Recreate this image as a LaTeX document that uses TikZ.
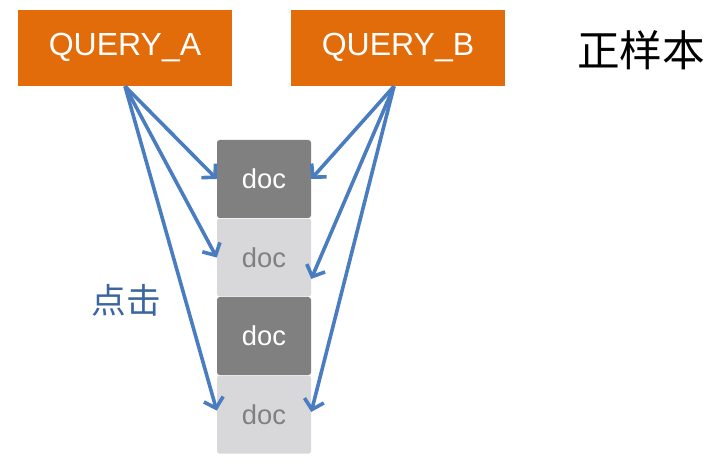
\documentclass[tikz,border=0pt]{standalone}
\usepackage{fontspec}
\setmainfont{Liberation Sans}
\newfontfamily\cjk{Noto Sans CJK SC}
\usepackage{xcolor}
\usepackage{tikz}
\usetikzlibrary{arrows.meta}
\usetikzlibrary{positioning}

\definecolor{qorange}{HTML}{E36C0A}
\definecolor{linkblue}{HTML}{4A7CC0}
\definecolor{clickblue}{HTML}{3A65A0}
\definecolor{docdark}{HTML}{808080}
\definecolor{doclight}{HTML}{D8D8DA}

\tikzset{
	query/.style={fill=qorange, text=white, minimum width=160pt, minimum height=57pt,
		inner sep=0pt, font=\fontsize{24}{24}\selectfont},
	docbox/.style={minimum width=70.5pt, minimum height=58.5pt, inner sep=0pt,
		rounded corners=2pt, font=\fontsize{20.5}{20.5}\selectfont},
	clicked/.style={docbox, fill=docdark, text=white},
	skipped/.style={docbox, fill=doclight, text=docdark},
	link/.style={draw=linkblue, line width=2.7pt, -{Straight Barb[length=7pt,width=15pt]}}
}

\begin{document}
\begin{tikzpicture}[x=0.75pt,y=-0.75pt]
	\useasboundingbox (0,0) rectangle (722,474);
	        \node[query] (qa) at (125,48) {QUERY\_A};
	        \node[query] (qb) at (398,48) {QUERY\_B};
	        \node (pos) at (641,50) {\cjk\fontsize{32}{32}\selectfont 正样本};
	        \node[clicked] (d1) at (264,179) {doc};
	        \node[skipped] (d2) [below=0pt of d1] {doc};
	        \node[clicked] (d3) [below=0pt of d2] {doc};
	        \node[skipped] (d4) [below=0pt of d3] {doc};
	        \node[text=clickblue] (click) at (126,300) {\cjk\fontsize{26}{26}\selectfont 点击};
	        \draw[link] (qa.south) to (d1.west);
	        \draw[link] (qa.south) to (d2.west);
	        \draw[link] (qa.south) to ([yshift=3pt]d4.west);
	        \draw[link] ([xshift=-3pt]qb.south) to (d1.east);
	        \draw[link] ([xshift=-3pt]qb.south) to ([yshift=-16pt]d2.east);
	        \draw[link] ([xshift=-3pt]qb.south) to ([yshift=2pt]d4.east);
	     \end{tikzpicture}
\end{document}
